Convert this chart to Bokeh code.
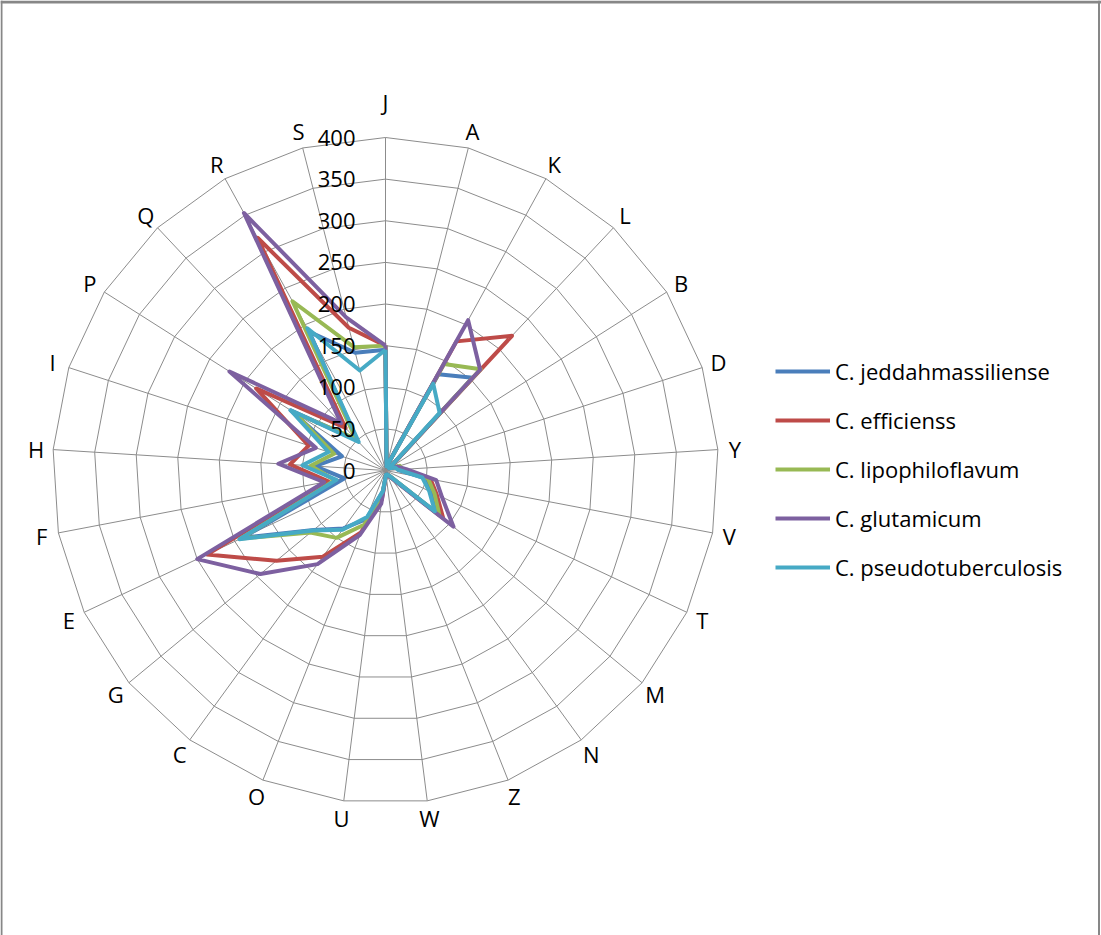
import numpy as np
from bokeh.plotting import figure
from bokeh.models import Range1d, Legend, LegendItem, Span
from bokeh.core.properties import value
from bokeh.embed import file_html
from bokeh.resources import INLINE

categories = ["J", "A", "K", "L", "B", "D", "Y", "V", "T", "M", "N", "Z", "W",
              "U", "O", "C", "G", "E", "F", "H", "I", "P", "Q", "R", "S"]
ring_values = [0, 50, 100, 150, 200, 250, 300, 350, 400]
ring_labels = ["0", "50", "100", "150", "200", "250", "300", "350", "400"]

series_names = ["C. jeddahmassiliense", "C. efficienss", "C. lipophiloflavum",
                "C. glutamicum", "C. pseudotuberculosis"]
#            J    A   K    L    B  D   Y   V   T   M   N   Z  W  U   O   C    G    E    F   H    I   P    Q   R    S
jeddah   = [145, 5, 132, 153, 5, 15, 15, 48, 60, 80, 8, 5, 5, 25, 63, 86, 112, 190, 50, 85, 55, 135, 50, 190, 146]
effic    = [150, 5, 177, 222, 5, 15, 20, 55, 68, 90, 10, 5, 5, 35, 80, 128, 170, 237, 70, 115, 97, 184, 70, 319, 177]
lipo     = [150, 5, 146, 167, 5, 18, 20, 52, 65, 84, 8, 5, 5, 30, 70, 100, 117, 192, 62, 90, 65, 130, 52, 232, 153]
glutam   = [150, 5, 206, 166, 5, 15, 25, 62, 75, 106, 10, 5, 5, 40, 83, 139, 195, 250, 75, 129, 88, 222, 78, 353, 190]
pseudo   = [145, 5, 119, 95, 5, 12, 15, 45, 58, 77, 8, 5, 5, 25, 60, 88, 113, 194, 60, 100, 72, 135, 47, 195, 124]
series_values = [jeddah, effic, lipo, glutam, pseudo]
series_colors = ["#4A7EBB", "#BE4B48", "#98B954", "#7D60A0", "#46AAC5"]

FONT = "Open Sans"
FSIZE = "22px"
W, H = 1101, 935
PX_PER_UNIT = 0.8325
k = 1.0 / PX_PER_UNIT
cx, cy = 385, 470  # centre in figure pixels

x0, x1 = -cx * k, (W - cx) * k
y0, y1 = -(H - cy) * k, cy * k
p = figure(width=W, height=H, output_backend="svg", toolbar_location=None,
           x_range=Range1d(x0, x1), y_range=Range1d(y0, y1),
           min_border=0, min_border_left=0, min_border_right=0,
           min_border_top=0, min_border_bottom=0)
p.axis.visible = False
p.grid.visible = False
p.outline_line_color = None
p.background_fill_color = "white"
p.border_fill_color = "white"

# frame of the picture (top, left, right)
BORDER = "#878787"
p.add_layout(Span(location=y1 - 1.5 * k, dimension="width", line_color=BORDER, line_width=3))
p.add_layout(Span(location=x0 + 1.0 * k, dimension="height", line_color=BORDER, line_width=2))
p.add_layout(Span(location=x1 - 2.5 * k, dimension="height", line_color=BORDER, line_width=2))

n = len(categories)
theta = np.arange(n) * 2 * np.pi / n
sx, cy_ = np.sin(theta), np.cos(theta)

# rings
rmax = ring_values[-1]
for rv in ring_values[1:]:
    xs = list(rv * sx) + [rv * sx[0]]
    ys = list(rv * cy_) + [rv * cy_[0]]
    p.line(xs, ys, line_color="#8c8c8c", line_width=1)
# spokes
p.segment(x0=np.zeros(n), y0=np.zeros(n), x1=rmax * sx, y1=rmax * cy_,
          line_color="#8c8c8c", line_width=1)

# category labels
lab_r = np.full(n, 350 * k)
lab_r[0] = 369 * k
p.text(x=lab_r * sx, y=lab_r * cy_, text=categories,
       text_align="center", text_baseline="middle",
       text_font=value(FONT), text_font_size=FSIZE, text_color="black")

items = []
for name, vals, col in zip(series_names, series_values, series_colors):
    v = np.array(vals, dtype=float)
    xs = list(v * sx) + [v[0] * sx[0]]
    ys = list(v * cy_) + [v[0] * cy_[0]]
    r = p.line(xs, ys, line_color=col, line_width=4, line_join="round")
    items.append(LegendItem(label=name, renderers=[r]))

# value labels drawn above the series
p.text(x=[-30 * k] * len(ring_values), y=ring_values, text=ring_labels,
       text_align="right", text_baseline="middle",
       text_font=value(FONT), text_font_size=FSIZE, text_color="black")

legend = Legend(items=items, location=(775, 353), border_line_color=None,
                background_fill_alpha=0, padding=0, margin=0, spacing=19,
                glyph_width=55, glyph_height=30, label_height=30, label_standoff=5,
                label_text_font=FONT, label_text_font_size=FSIZE,
                label_text_color="black")
p.add_layout(legend)

open("out.html", "w").write(file_html(p, INLINE))
